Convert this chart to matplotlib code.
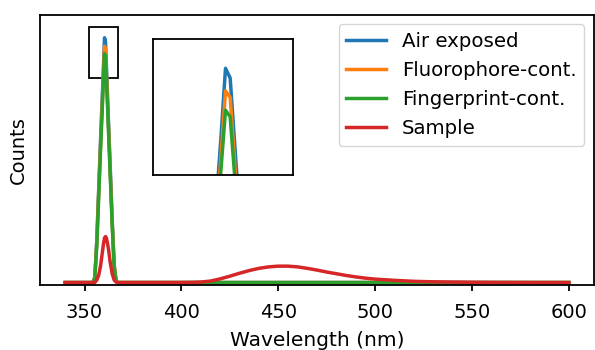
import numpy as np
import matplotlib.pyplot as plt
from matplotlib.patches import Rectangle

# Spectra (normalised counts)
wl_main = [340, 350, 354.3, 355.3, 356.3, 357.3, 358.3, 359.3, 359.8, 360.3,
           360.8, 361.3, 362.3, 363.3, 364.3, 365.3, 366.3, 367.3, 380, 400,
           450, 500, 550, 600]
air = [0, 0, 0, 0.02, 0.17, 0.38, 0.59, 0.79, 0.89, 1.0,
       0.985, 0.88, 0.67, 0.46, 0.25, 0.07, 0.005, 0, 0, 0,
       0, 0, 0, 0]
fluoro = [0, 0, 0, 0.02, 0.16, 0.37, 0.57, 0.76, 0.86, 0.965,
          0.955, 0.85, 0.65, 0.44, 0.24, 0.07, 0.005, 0, 0, 0,
          0, 0, 0, 0]
finger = [0, 0, 0, 0.02, 0.15, 0.35, 0.55, 0.74, 0.84, 0.935,
          0.925, 0.83, 0.63, 0.43, 0.23, 0.06, 0.005, 0, 0, 0,
          0, 0, 0, 0]

wl_sample = [340, 350, 354.3, 355.3, 356.3, 357.3, 358.3, 359.3, 359.8, 360.3,
             360.8, 361.3, 362.3, 363.3, 364.3, 365.3, 366.3, 367.3, 380, 400,
             405, 410, 415, 420, 425, 430, 435, 440, 445, 450,
             455, 460, 465, 470, 475, 480, 485, 490, 495, 500,
             510, 520, 530, 540, 550, 560, 580, 600]
sample = [0, 0, 0, 0, 0.01, 0.03, 0.07, 0.13, 0.16, 0.182,
          0.188, 0.182, 0.14, 0.08, 0.035, 0.01, 0.002, 0, 0, 0,
          0.0005, 0.002, 0.006, 0.015, 0.026, 0.038, 0.049, 0.058, 0.064, 0.067,
          0.067, 0.064, 0.058, 0.051, 0.043, 0.036, 0.029, 0.023, 0.018, 0.014,
          0.009, 0.005, 0.003, 0.002, 0.001, 0.0005, 0, 0]

labels = ['Air exposed', 'Fluorophore-cont.', 'Fingerprint-cont.', 'Sample']
colors = ['tab:blue', 'tab:orange', 'tab:green', 'tab:red']

# zoom window around the peak top
zoom_x = (352.5, 367.5)
zoom_y = (0.835, 1.045)

plt.rcParams['font.size'] = 14
plt.rcParams['axes.linewidth'] = 1.3

fig = plt.figure(figsize=(5.95, 3.5), dpi=100)
ax = fig.add_axes([40 / 595, 65 / 350, 554 / 595, 270.5 / 350])

series = [(wl_main, air), (wl_main, fluoro), (wl_main, finger), (wl_sample, sample)]
for (x, y), lab, c in zip(series, labels, colors):
    ax.plot(x, y, color=c, lw=2.5, label=lab)

ax.set_ylim(-0.01, 1.095)
ax.set_xticks([350, 400, 450, 500, 550, 600])
ax.set_yticks([])
ax.tick_params(axis='x', width=1.3, length=4.5, pad=8.5)
ax.set_xlabel('Wavelength (nm)', fontsize=14.5, labelpad=6.5)
ax.set_ylabel('Counts', labelpad=9)
ax.legend(loc='upper right', fontsize=14.2)

# inset
axins = fig.add_axes([152.7 / 595, (350 - 174.7) / 350, 140 / 595, 135.4 / 350])
for (x, y), c in zip(series, colors):
    axins.plot(x, y, color=c, lw=2.5)
axins.set_xlim(*zoom_x)
axins.set_ylim(*zoom_y)
axins.set_xticks([])
axins.set_yticks([])

ax.add_patch(Rectangle((zoom_x[0], zoom_y[0]), zoom_x[1] - zoom_x[0],
                       zoom_y[1] - zoom_y[0], fill=False, ec='black', lw=1.3))

plt.savefig('out.png', dpi=100)
